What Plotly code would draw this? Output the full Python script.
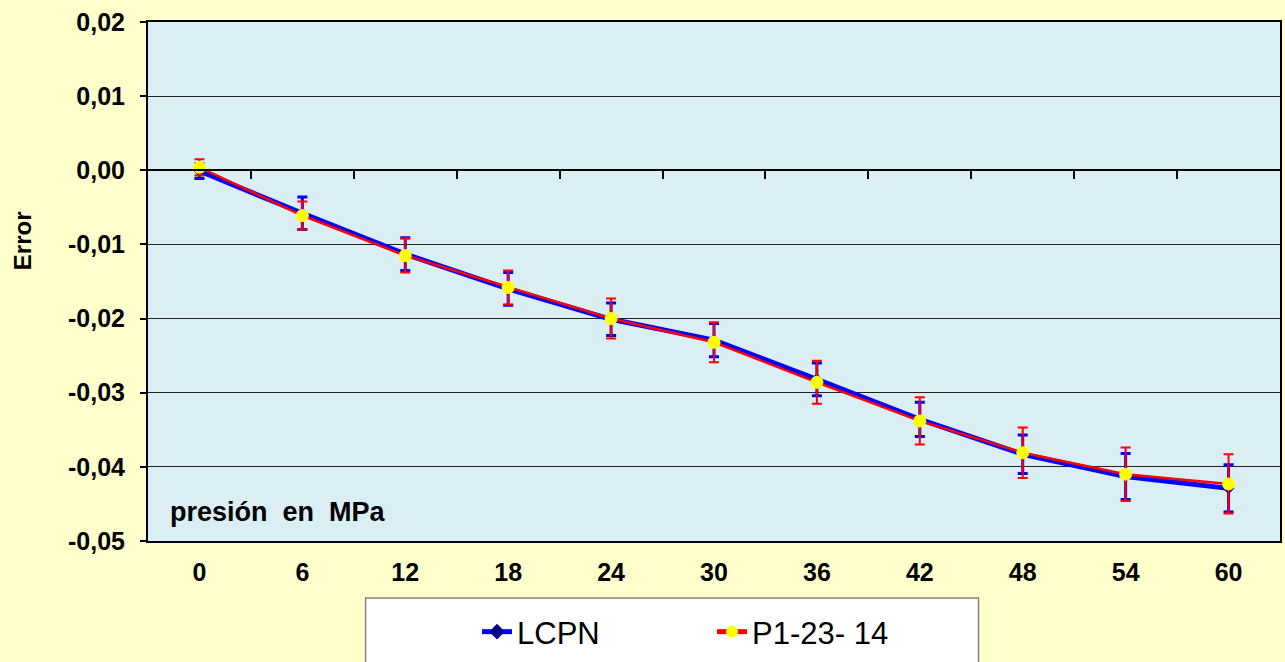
import plotly.graph_objects as go

# ---- data ----
pressure = [0, 6, 12, 18, 24, 30, 36, 42, 48, 54, 60]
lcpn = [-0.0001, -0.0058, -0.0113, -0.0160, -0.0201, -0.0229, -0.0282, -0.0336, -0.0383, -0.0413, -0.0429]
lcpn_err = [0.0010, 0.0022, 0.0022, 0.0022, 0.0022, 0.00225, 0.0022, 0.0023, 0.0026, 0.0031, 0.0032]
p1 = [0.0004, -0.0061, -0.0115, -0.0158, -0.0200, -0.0232, -0.0286, -0.0338, -0.0381, -0.0410, -0.0423]
p1_err = [0.0011, 0.0019, 0.0023, 0.0023, 0.0027, 0.0027, 0.0029, 0.0032, 0.0034, 0.0036, 0.0040]
boundaries = [3, 9, 15, 21, 27, 33, 39, 45, 51, 57]
y_ticks = [0.02, 0.01, 0.00, -0.01, -0.02, -0.03, -0.04, -0.05]
y_ticktext = ["0,02", "0,01", "0,00", "-0,01", "-0,02", "-0,03", "-0,04", "-0,05"]
x_range = [-3, 63]
y_range = [-0.05, 0.02]

FONT = "Liberation Sans, Arial, sans-serif"
W, H = 1285, 662
ML, MR, MT, MB = 148, 3, 22, 121

fig = go.Figure()

fig.add_trace(go.Scatter(
    x=pressure, y=lcpn, name="LCPN", mode="lines+markers",
    line=dict(color="#0000FF", width=5),
    marker=dict(symbol="diamond", size=9, color="#000080"),
    error_y=dict(type="data", array=lcpn_err, color="#0000FF", thickness=3, width=5),
))
fig.add_trace(go.Scatter(
    x=pressure, y=p1, name="P1-23- 14", mode="lines+markers",
    line=dict(color="#FF0000", width=2.5),
    marker=dict(symbol="circle", size=13, color="#FFFF00"),
    error_y=dict(type="data", array=p1_err, color="#FF0000", thickness=2, width=5),
))
# empty trace to attach the crossing axis at y = 0
fig.add_trace(go.Scatter(x=[], y=[], xaxis="x2", showlegend=False, hoverinfo="skip"))

zero_pos = (0 - y_range[0]) / (y_range[1] - y_range[0])

plot_h = H - MT - MB
plot_w = W - ML - MR
leg_x0, leg_x1, leg_top = 366, 980, 598

fig.update_layout(
    width=W, height=H,
    margin=dict(l=ML, r=MR, t=MT, b=MB, pad=0),
    paper_bgcolor="#FFFFCC",
    plot_bgcolor="#DBEEF3",
    font=dict(family=FONT, color="black"),
    showlegend=True,
    legend=dict(
        orientation="h", xref="container", yref="container",
        x=477 / W, xanchor="left", y=1 - 632 / H, yanchor="middle",
        bgcolor="rgba(0,0,0,0)", borderwidth=0,
        font=dict(family=FONT, size=31, color="black"),
        entrywidth=190, entrywidthmode="pixels",
        itemsizing="constant",
    ),
    xaxis=dict(
        range=x_range, tickmode="array", tickvals=pressure,
        ticktext=[str(v) for v in pressure],
        ticks="", showgrid=False, zeroline=False,
        showline=True, linecolor="black", linewidth=2, mirror=True,
        tickfont=dict(family=FONT, size=25, weight="bold"),
        ticklabelstandoff=8,
    ),
    xaxis2=dict(
        range=x_range, overlaying="x", anchor="free", position=zero_pos,
        tickmode="array", tickvals=boundaries, showticklabels=False,
        ticks="outside", ticklen=8, tickwidth=1.5, tickcolor="black",
        showgrid=False, zeroline=False,
        showline=True, linecolor="black", linewidth=1.5,
    ),
    yaxis=dict(
        range=y_range, tickmode="array", tickvals=y_ticks, ticktext=y_ticktext,
        ticks="outside", ticklen=6, tickwidth=1.5, tickcolor="black",
        showgrid=True, gridcolor="#222222", gridwidth=1,
        zeroline=False,
        showline=True, linecolor="black", linewidth=2, mirror=True,
        tickfont=dict(family=FONT, size=25, weight="bold"),
        ticklabelstandoff=10,
    ),
    shapes=[dict(
        type="rect", xref="paper", yref="paper",
        x0=(leg_x0 - ML) / plot_w, x1=(leg_x1 - ML) / plot_w,
        y0=(H - MB - H - 20) / plot_h, y1=(H - MB - leg_top) / plot_h,
        line=dict(color="#808080", width=1.5), fillcolor="white", layer="below",
    )],
    annotations=[
        dict(text="<b>Error</b>", xref="paper", yref="paper",
             x=-(ML - 22) / plot_w, y=1 - (241 - MT) / plot_h, textangle=-90,
             showarrow=False, xanchor="center", yanchor="middle",
             font=dict(family=FONT, size=24, color="black")),
        dict(text="<b>presión\u00a0\u00a0en\u00a0\u00a0MPa</b>", xref="paper", yref="paper",
             x=(168 - ML) / plot_w, y=1 - (512 - MT) / plot_h,
             showarrow=False, xanchor="left", yanchor="middle",
             font=dict(family=FONT, size=27, color="black")),
    ],
)

fig.write_html(
    "out.html",
    config={"displayModeBar": False},
    post_script="document.body.style.margin='0';document.body.style.overflow='hidden';",
)
